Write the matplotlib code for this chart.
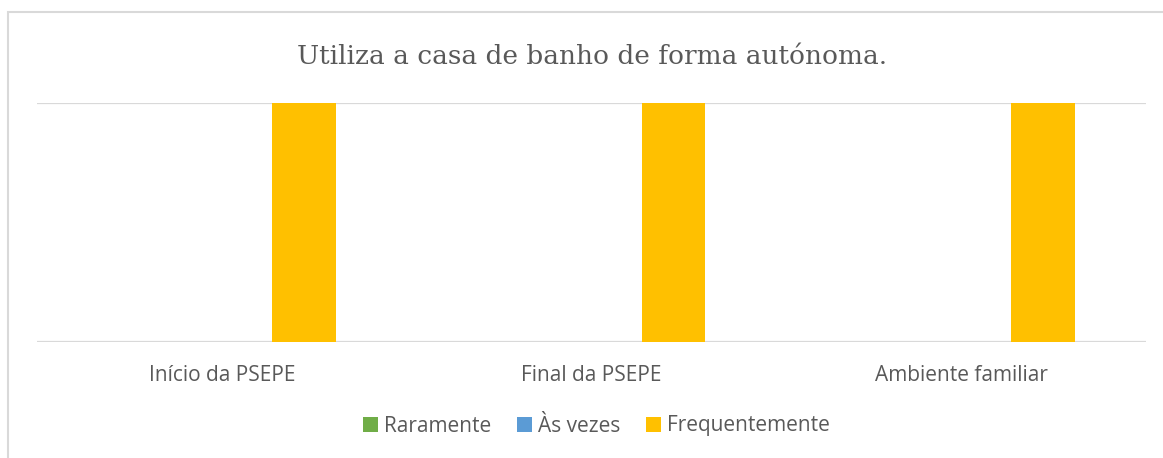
import matplotlib.pyplot as plt
import numpy as np
from matplotlib.patches import Rectangle

categorias = ["Início da PSEPE", "Final da PSEPE", "Ambiente familiar"]
series = ["Raramente", "Às vezes", "Frequentemente"]
raramente = [0, 0, 0]
as_vezes = [0, 0, 0]
frequentemente = [1, 1, 1]
cores = ["#70AD47", "#5B9BD5", "#FFC000"]

fig = plt.figure(figsize=(11.63, 4.58), dpi=100)
ax = fig.add_axes([37 / 1163, 1 - 342 / 458, (1146 - 37) / 1163, (342 - 103) / 458])

# chart frame, only top and left edges fall inside the image
fig.patches.append(Rectangle((8 / 1163, -0.1), 1.2, 1 - 12 / 458 + 0.1,
                             transform=fig.transFigure, fill=False,
                             edgecolor="#D9D9D9", linewidth=1.5))

x = np.arange(len(categorias))
largura = 0.173
passo = 0.2218
for i, (nome, vals) in enumerate(zip(series, [raramente, as_vezes, frequentemente])):
    ax.bar(x + (i - 1) * passo, vals, largura, color=cores[i], label=nome, zorder=2)

ax.set_xlim(-0.5, 2.5)
ax.set_ylim(0, 1)
ax.set_yticks([0, 1])
ax.yaxis.grid(True, color="#D9D9D9", linewidth=1.6, zorder=0)
ax.set_axisbelow(True)
ax.tick_params(axis="y", left=False, labelleft=False)
ax.tick_params(axis="x", bottom=False, labelsize=15, labelcolor="#595959", pad=13)
ax.set_xticks(x)
ax.set_xticklabels(categorias, fontfamily="Open Sans")
for s in ax.spines.values():
    s.set_visible(False)

fig.text(0.5095, 1 - 57 / 458, "Utiliza a casa de banho de forma autónoma.",
         ha="center", va="center", fontsize=19, color="#595959",
         fontfamily="DejaVu Serif")

fig.legend(loc="center", bbox_to_anchor=(0.513, 1 - 426 / 458), ncol=3,
           frameon=False, prop={"family": "Open Sans", "size": 15},
           labelcolor="#595959", handlelength=0.7, handleheight=0.7,
           handletextpad=0.3, columnspacing=1.25)

fig.savefig("out.png", dpi=100)
